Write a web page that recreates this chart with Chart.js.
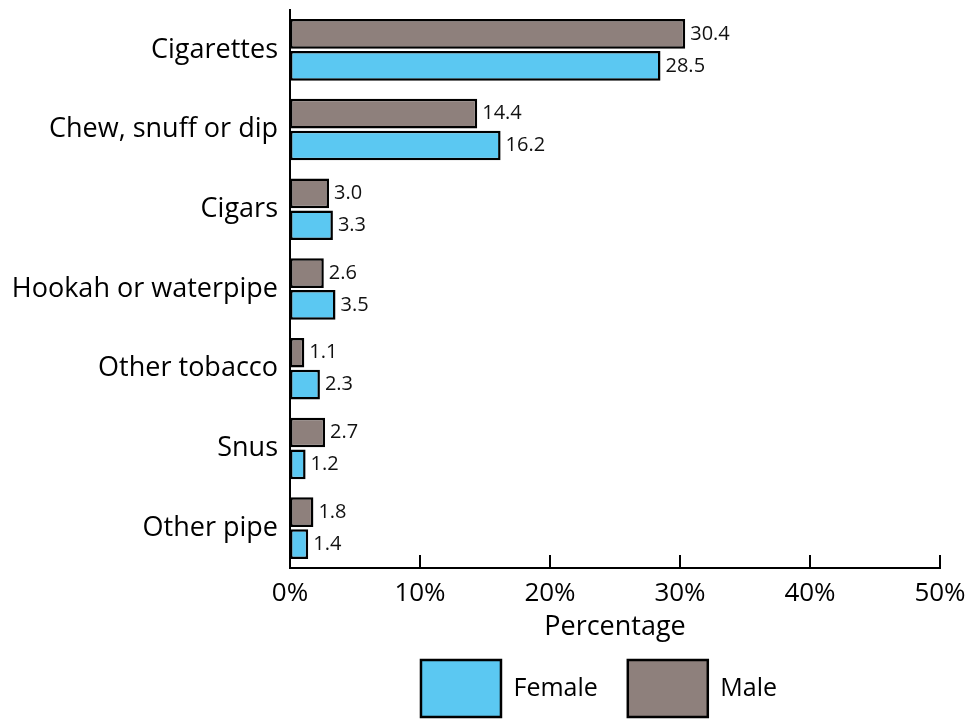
<!DOCTYPE html>
<html>
<head>
<meta charset="utf-8">
<script src="https://cdn.jsdelivr.net/npm/chart.js@4.4.1/dist/chart.umd.min.js"></script>
<style>
  html, body { margin: 0; padding: 0; background: #fff; }
  #wrap { width: 969px; height: 719px; }
</style>
</head>
<body>
<div id="wrap"><canvas id="myBarChart"></canvas></div>
<script>
// du lieu doc tu hinh
const categories = ['Cigarettes', 'Chew, snuff or dip', 'Cigars', 'Hookah or waterpipe', 'Other tobacco', 'Snus', 'Other pipe'];
const maleValues = [30.4, 14.4, 3.0, 2.6, 1.1, 2.7, 1.8];
const femaleValues = [28.5, 16.2, 3.3, 3.5, 2.3, 1.2, 1.4];
const xTicks = [0, 10, 20, 30, 40, 50];

const FONT = "'Open Sans', sans-serif";

// ve nhan gia tri ben phai moi thanh
const valueLabels = {
    id: 'valueLabels',
    afterDatasetsDraw(chart) {
        const ctx = chart.ctx;
        ctx.save();
        ctx.font = '20px ' + FONT;
        ctx.fillStyle = '#111';
        ctx.textBaseline = 'middle';
        ctx.textAlign = 'left';
        chart.data.datasets.forEach((ds, i) => {
            chart.getDatasetMeta(i).data.forEach((bar, j) => {
                ctx.fillText(ds.data[j].toFixed(1), bar.x + 5, bar.y);
            });
        });
        ctx.restore();
    }
};

// vach chia huong vao trong tren truc x
const innerTicks = {
    id: 'innerTicks',
    afterDraw(chart) {
        const ctx = chart.ctx;
        const x = chart.scales.x;
        ctx.save();
        ctx.strokeStyle = '#000';
        ctx.lineWidth = 2;
        xTicks.forEach(v => {
            const px = x.getPixelForValue(v);
            ctx.beginPath();
            ctx.moveTo(px, x.top);
            ctx.lineTo(px, x.top - 13);
            ctx.stroke();
        });
        ctx.restore();
    }
};

// dich chu thich sang trai mot chut
const legendShift = {
    id: 'legendShift',
    afterLayout(chart) {
        chart.legend.left -= 16;
        chart.legend.right -= 16;
    }
};

const ctx = document.getElementById('myBarChart').getContext('2d');
new Chart(ctx, {
    type: 'bar',
    data: {
        labels: categories,
        datasets: [{
            label: 'Male',
            data: maleValues,
            backgroundColor: '#8e807c',
            borderColor: '#000',
            borderWidth: 2.5,
            borderSkipped: false,
            categoryPercentage: 0.8,
            barPercentage: 0.93
        }, {
            label: 'Female',
            data: femaleValues,
            backgroundColor: '#5bc8f2',
            borderColor: '#000',
            borderWidth: 2.5,
            borderSkipped: false,
            categoryPercentage: 0.8,
            barPercentage: 0.93
        }]
    },
    options: {
        indexAxis: 'y',
        responsive: true,
        maintainAspectRatio: false,
        animation: false,
        layout: {
            padding: { top: 10, right: 29, bottom: -8, left: 0 }
        },
        scales: {
            x: {
                min: 0,
                max: 50,
                afterBuildTicks: scale => {
                    scale.ticks = xTicks.map(v => ({ value: v }));
                },
                afterFit: scale => {
                    scale.height = 62;
                    scale.paddingLeft = 0;
                    scale.paddingRight = 0;
                },
                grid: { display: false, drawTicks: false },
                border: { display: true, color: '#000', width: 2 },
                ticks: {
                    padding: 10,
                    color: '#000',
                    font: { family: FONT, size: 26 },
                    callback: v => v + '%'
                },
                title: {
                    display: true,
                    text: 'Percentage',
                    color: '#000',
                    font: { family: FONT, size: 27 },
                    padding: { top: 4, bottom: -14 }
                }
            },
            y: {
                afterFit: scale => {
                    scale.width = 290;
                    scale.paddingTop = 0;
                    scale.paddingBottom = 0;
                },
                grid: { display: false, drawTicks: false },
                border: { display: true, color: '#000', width: 2 },
                ticks: {
                    padding: 12,
                    color: '#000',
                    font: { family: FONT, size: 27 }
                }
            }
        },
        plugins: {
            legend: {
                position: 'bottom',
                fullSize: false,
                reverse: true,
                labels: {
                    boxWidth: 80,
                    boxHeight: 57,
                    padding: 30,
                    color: '#000',
                    font: { family: FONT, size: 25 }
                }
            },
            tooltip: { enabled: false }
        }
    },
    plugins: [valueLabels, innerTicks, legendShift]
});
</script>
</body>
</html>
